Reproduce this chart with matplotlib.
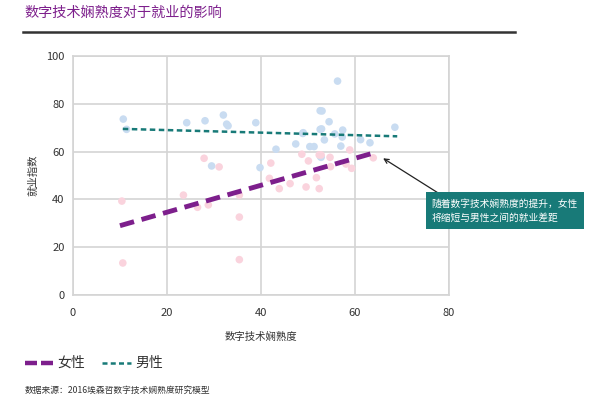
import numpy as np
import matplotlib
matplotlib.use("Agg")
import matplotlib.pyplot as plt
from matplotlib.lines import Line2D

plt.rcParams['font.family'] = ['Noto Sans CJK SC', 'DejaVu Sans']

# ---- data ----
male_x = [10.7, 11.4, 24.2, 28.1, 32.0, 32.7, 33.0, 38.9, 29.5, 39.8, 43.2, 47.4,
          48.9, 50.4, 51.3, 52.6, 52.7, 52.6, 56.3, 53.0, 54.5, 52.9, 57.4, 55.7,
          49.0, 53.5, 57.3, 57.0, 61.2, 63.2, 68.5, 52.8]
male_y = [73.6, 69.3, 72.1, 72.9, 75.3, 71.5, 70.8, 72.1, 54.0, 53.3, 61.0, 63.2,
          67.6, 62.1, 62.1, 69.3, 57.9, 77.1, 89.5, 77.0, 72.5, 69.5, 69.0, 67.4,
          67.9, 64.9, 66.1, 62.3, 65.0, 63.7, 70.2, 57.6]

female_x = [10.4, 10.6, 23.5, 26.5, 28.8, 27.9, 31.1, 35.4, 35.4, 35.4, 42.1, 41.8,
            43.9, 46.2, 48.7, 50.1, 49.6, 51.8, 52.4, 52.4, 52.8, 54.7, 54.8, 58.1,
            58.9, 59.3, 63.9]
female_y = [39.3, 13.4, 41.8, 36.7, 37.7, 57.2, 53.6, 41.8, 32.6, 14.8, 55.2, 48.8,
            44.5, 46.6, 58.9, 56.1, 45.2, 49.1, 44.5, 58.6, 58.6, 57.6, 53.7, 54.8,
            60.7, 53.0, 57.4]

# trend lines (start / end)
female_trend_x = [10.0, 64.1]
female_trend_y = [29.0, 59.5]
male_trend_x = [10.6, 69.0]
male_trend_y = [69.5, 66.4]

x_ticks = [0, 20, 40, 60, 80]
y_ticks = [0, 20, 40, 60, 80, 100]

title = "数字技术娴熟度对于就业的影响"
note = "随着数字技术娴熟度的提升，女性\n将缩短与男性之间的就业差距"
source = "数据来源：2016埃森哲数字技术娴熟度研究模型"

purple = "#7d1f8c"
teal = "#187a78"
grid_c = "#d4d4d4"
txt_c = "#333333"

fig = plt.figure(figsize=(5.92, 4.0), dpi=100)
ax = fig.add_axes([0.1233, 0.2625, 0.635, 0.5975])

ax.scatter(male_x, male_y, s=30, color="#c9dcf1", edgecolors="none", zorder=2)
ax.scatter(female_x, female_y, s=30, color="#fad3dd", edgecolors="none", zorder=2)

ax.plot(male_trend_x, male_trend_y, color=teal, lw=1.8, dashes=(2.2, 1.4), zorder=3)
ax.plot(female_trend_x, female_trend_y, color=purple, lw=3.5, dashes=(3.0, 1.6), zorder=3)

ax.set_xlim(0, 80)
ax.set_ylim(0, 100)
ax.set_xticks(x_ticks)
ax.set_yticks(y_ticks)
ax.grid(True, color=grid_c, lw=1.2)
ax.set_axisbelow(True)
for s in ax.spines.values():
    s.set_color(grid_c)
    s.set_linewidth(1.2)
ax.tick_params(length=0, labelsize=8, colors=txt_c, pad=6)
ax.tick_params(axis='x', pad=9)

ax.set_xlabel("数字技术娴熟度", fontsize=7.5, color=txt_c, labelpad=10)
ax.set_ylabel("就业指数", fontsize=7.5, color=txt_c, labelpad=6)

# annotation box with arrow
ax.annotate("", xy=(66.0, 57.2), xytext=(77.7, 42.7),
            arrowprops=dict(arrowstyle="->", color="#222222", lw=0.9,
                            mutation_scale=8, shrinkA=0, shrinkB=0),
            annotation_clip=False, zorder=5)
fig.text(0.729, 0.473, note, fontsize=7.0, color="white", va="center", ha="left",
         linespacing=1.6,
         bbox=dict(boxstyle="square,pad=0.62", fc=teal, ec="none"))

# title & rule
fig.text(0.042, 0.968, title, fontsize=10.2, color=purple, va="center", ha="left")
fig.add_artist(Line2D([0.039, 0.87], [0.921, 0.921], color="#333333", lw=1.8))

# legend
fig.add_artist(Line2D([0.042, 0.0895], [0.093, 0.093], color=purple, lw=3.2,
                      dashes=(2.7, 0.9)))
fig.text(0.097, 0.093, "女性", fontsize=10, color=txt_c, va="center", ha="left")
fig.add_artist(Line2D([0.172, 0.221], [0.093, 0.093], color=teal, lw=1.8,
                      dashes=(2.0, 1.3)))
fig.text(0.229, 0.093, "男性", fontsize=10, color=txt_c, va="center", ha="left")

# source
fig.text(0.042, 0.025, source, fontsize=6.3, color=txt_c, va="center", ha="left")

fig.savefig("out.png", dpi=100)
